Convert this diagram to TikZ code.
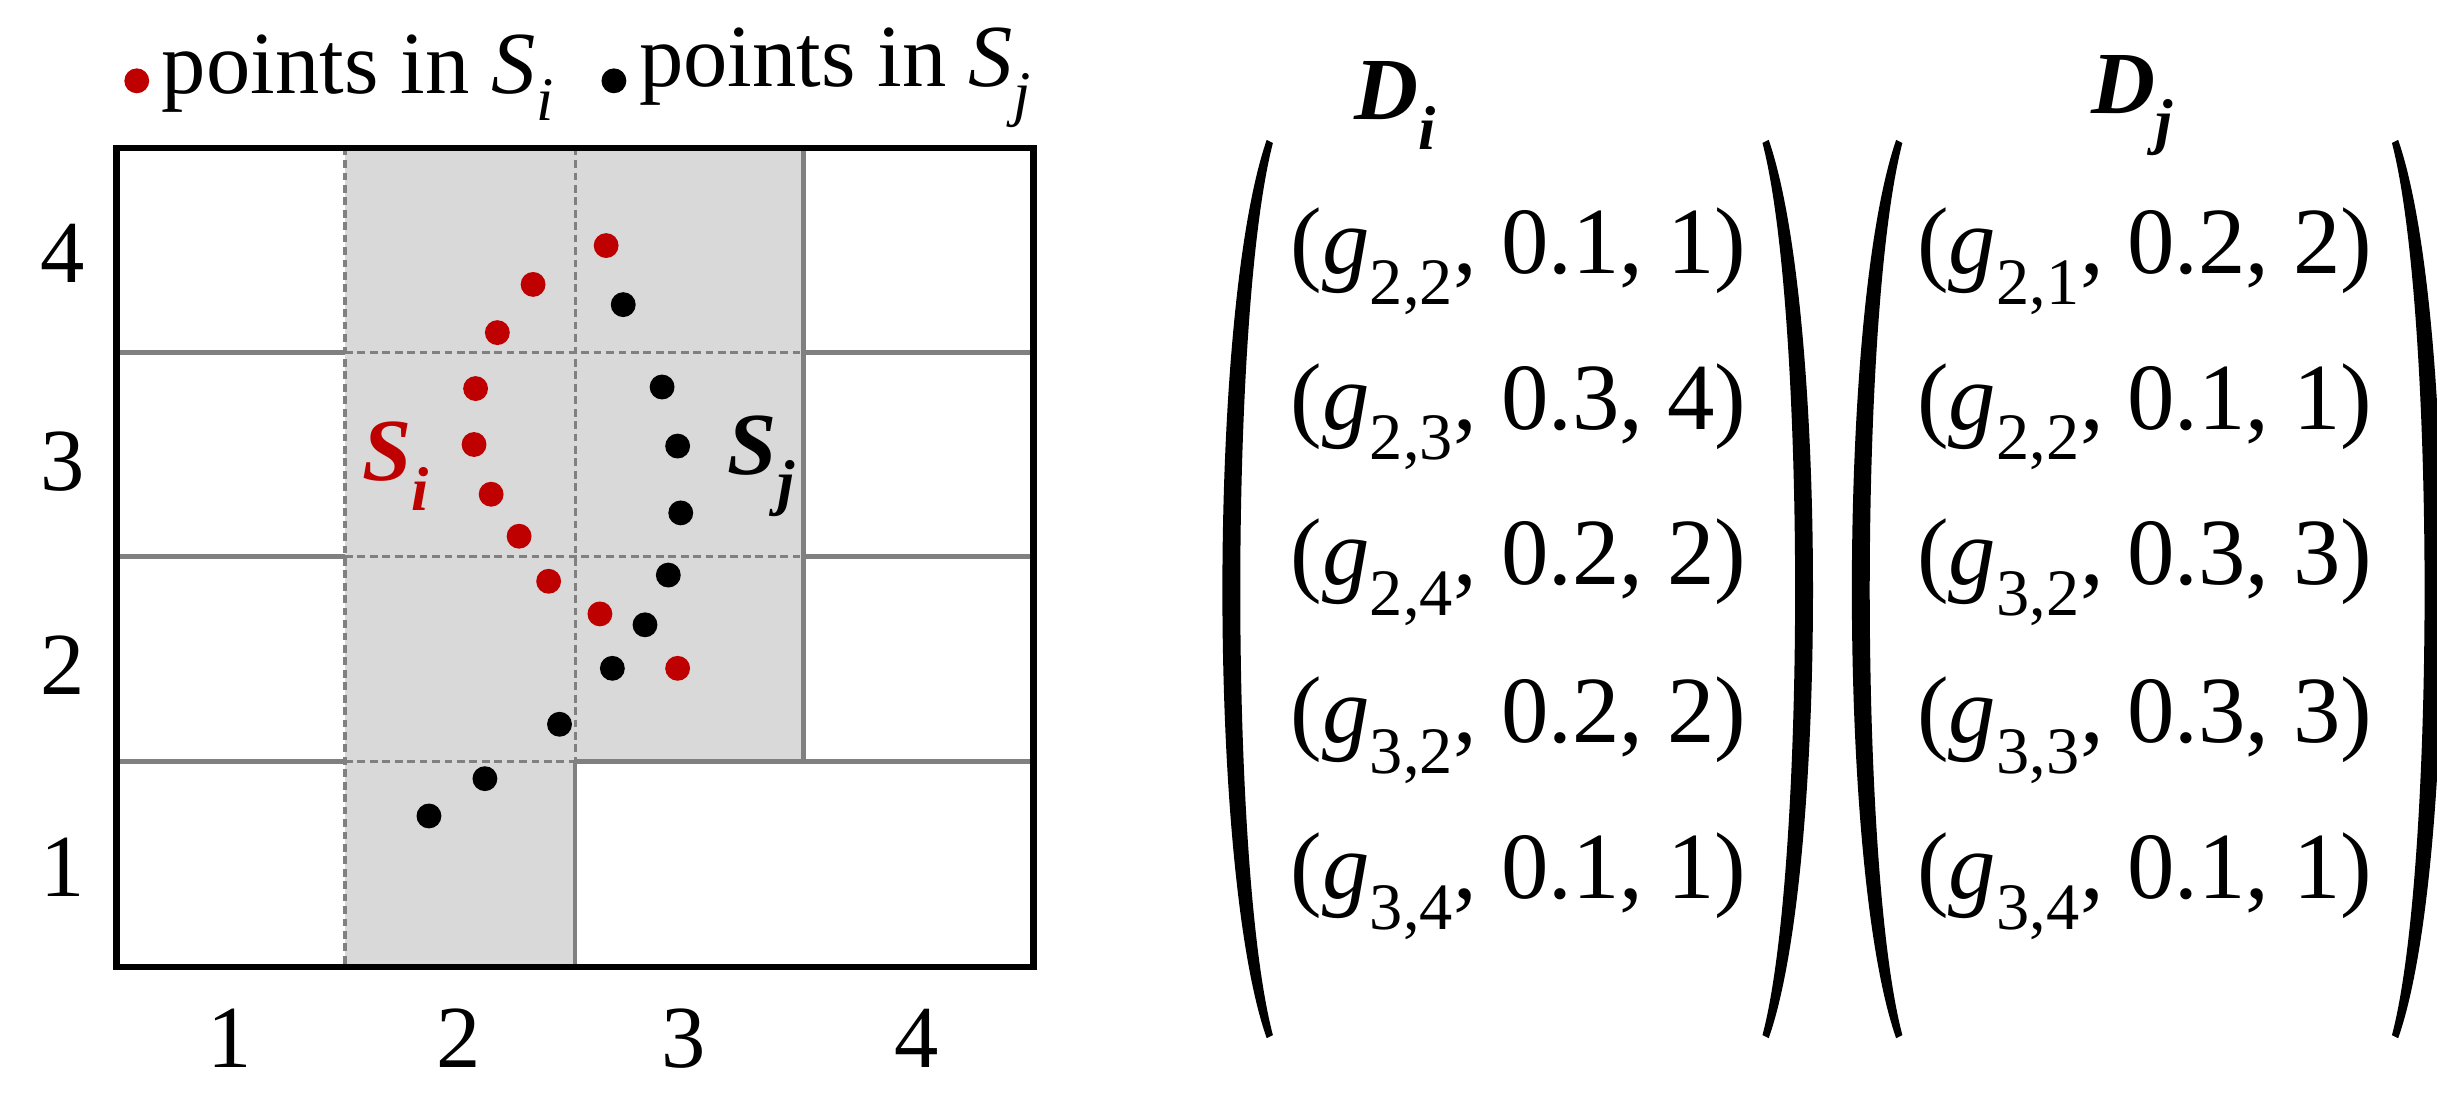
\documentclass[tikz,border=0pt]{standalone}
\usepackage{fontspec}
\setmainfont{Liberation Serif}
\newcommand{\gsub}[1]{\textit{g}\textsubscript{#1}}
\begin{document}
\begin{tikzpicture}[x=1pt,y=-1pt,
  rd/.style={circle,fill=red!75!black,inner sep=0pt,minimum size=16pt},
  bd/.style={circle,fill=black,inner sep=0pt,minimum size=16pt},
  txt/.style={inner sep=0pt,font=\fontsize{57}{64}\selectfont},
  bit/.style={inner sep=0pt,font=\fontsize{57}{64}\selectfont\bfseries\itshape},
  ent/.style={inner sep=0pt,font=\fontsize{61}{68}\selectfont},
  solidg/.style={draw=gray,line width=3pt},
  dashg/.style={draw=gray,line width=2pt,dash pattern=on 5pt off 3pt},
  paren/.style={fill=black}]
\useasboundingbox (0,0) rectangle (1568,707);
% shading
\fill[gray!30] (222,95) rectangle (370,622);
\fill[gray!30] (370,95) rectangle (517,490);
% solid lines
\draw[solidg] (75,227)--(222,227) (75,358)--(222,358) (75,490)--(222,490);
\draw[solidg] (517,227)--(665,227) (517,358)--(665,358) (370,490)--(665,490);
\draw[solidg] (517,95)--(517,490) (370,490)--(370,622);
% dashed
\draw[dashg] (222,95)--(222,622) (370,95)--(370,490);
\draw[dashg] (222,227)--(517,227) (222,358)--(517,358) (222,490)--(370,490);
\draw[black,line width=4pt] (75,95) rectangle (665,622);
% axis labels
\foreach \t/\y in {4/163,3/297,2/428,1/558}{\node[txt] (yl\t) at (40,\y) {\t};}
\foreach \t/\x in {1/148,2/295,3/440,4/590}{\node[txt] (xl\t) at (\x,668) {\t};}
% legend
\node[rd] (lr) at (88,52) {};
\node[txt,anchor=west] (lrt) at (104,50) {points in \textit{S}\textsubscript{\textit{i}}};
\node[bd] (lb) at (395,52) {};
\node[txt,anchor=west] (lbt) at (411,50) {points in \textit{S}\textsubscript{\textit{j}}};
% points
\foreach \x/\y [count=\k] in {390/158,343/183,320/214,306/250,305/286,316/318,334/345,353/374,386/395,436/430}{\node[rd] (r\k) at (\x,\y) {};}
\foreach \x/\y [count=\k] in {401/196,426/249,436/287,438/330,430/370,415/402,394/430,360/466,312/501,276/525}{\node[bd] (b\k) at (\x,\y) {};}
\node[bit,text=red!75!black] (si) at (255,300) {S\textsubscript{i}};
\node[bit] (sj) at (490,300) {S\textsubscript{j}};
% matrices
\node[bit] (di) at (898,68) {D\textsubscript{i}};
\node[bit] (dj) at (1372,68) {D\textsubscript{j}};
\foreach \xl/\xr in {815/1138,1220/1543}{
 \fill[paren] (\xl,90) .. controls (\xl-38,200) and (\xl-38,560) .. (\xl,668)
   -- (\xl+4,666) .. controls (\xl-24,560) and (\xl-24,200) .. (\xl+4,92) -- cycle;
 \fill[paren] (\xr,90) .. controls (\xr+38,200) and (\xr+38,560) .. (\xr,668)
   -- (\xr-4,666) .. controls (\xr+24,560) and (\xr+24,200) .. (\xr-4,92) -- cycle;
}
\foreach \t/\y [count=\k] in {{(\gsub{2,2}, 0.1, 1)}/168,{(\gsub{2,3}, 0.3, 4)}/268,{(\gsub{2,4}, 0.2, 2)}/368,{(\gsub{3,2}, 0.2, 2)}/470,{(\gsub{3,4}, 0.1, 1)}/570}{\node[ent] (mi\k) at (977,\y) {\t};}
\foreach \t/\y [count=\k] in {{(\gsub{2,1}, 0.2, 2)}/168,{(\gsub{2,2}, 0.1, 1)}/268,{(\gsub{3,2}, 0.3, 3)}/368,{(\gsub{3,3}, 0.3, 3)}/470,{(\gsub{3,4}, 0.1, 1)}/570}{\node[ent] (mj\k) at (1380,\y) {\t};}
\end{tikzpicture}
\end{document}
